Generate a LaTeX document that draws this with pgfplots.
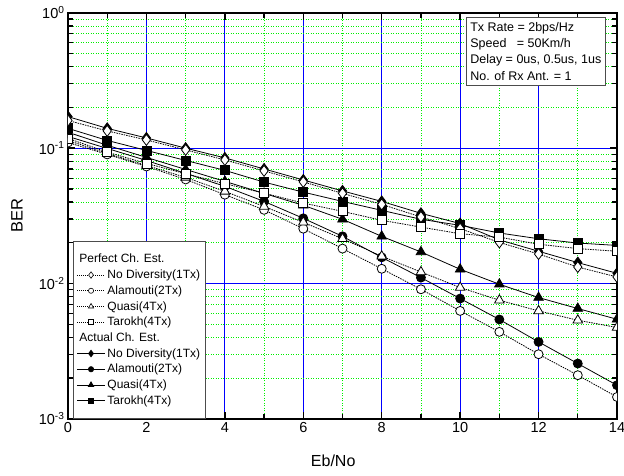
\documentclass[border=0pt]{standalone}
\usepackage{pgfplots}
\pgfplotsset{compat=1.18}
\usepackage{fontspec}
\setmainfont{Liberation Sans}
\definecolor{gridgreen}{RGB}{0,240,0}
\definecolor{gridblue}{RGB}{0,0,255}
\begin{document}
\begin{tikzpicture}
\begin{axis}[
  at={(0pt,0pt)}, anchor=south west,
  width=549pt, height=406pt, scale only axis,
  xmin=0, xmax=14, ymode=log, ymin=1e-3, ymax=1,
  xtick={0,2,4,6,8,10,12,14},
  xticklabels={0,2,4,6,8,10,12,14},
  minor xtick={1,3,5,7,9,11,13},
  ytick={1e-3,1e-2,1e-1,1},
  yticklabels={10\textsuperscript{-3},10\textsuperscript{-2},10\textsuperscript{-1},10\textsuperscript{0}},
  minor ytick={2e-3,3e-3,4e-3,5e-3,6e-3,7e-3,8e-3,9e-3,2e-2,3e-2,4e-2,5e-2,6e-2,7e-2,8e-2,9e-2,2e-1,3e-1,4e-1,5e-1,6e-1,7e-1,8e-1,9e-1},
  tick align=inside,
  major tick length=7pt, minor tick length=5pt,
  major tick style={black, line width=1.3pt},
  minor tick style={black, line width=1.3pt},
  axis line style={black, line width=1.5pt},
  grid=both,
  major grid style={draw=gridblue, line width=1.1pt, solid},
  minor grid style={draw=gridgreen, line width=0.8pt, dash pattern=on 1pt off 1.5pt},
  ticklabel style={font=\fontsize{14.5}{16}\selectfont},
  xlabel={Eb/No}, ylabel={BER},
  xlabel style={font=\fontsize{16}{18}\selectfont, at={(axis description cs:0.483,-0.104)}, anchor=center},
  ylabel style={font=\fontsize{16.5}{18}\selectfont, at={(axis description cs:-0.093,0.5)}, anchor=center},
  clip marker paths=true,
  legend image code/.code={\draw[mark repeat=2,mark phase=2,#1] plot coordinates {(0pt,0pt) (14pt,0pt) (28pt,0pt)};},
  legend cell align=left,
  legend style={at={(axis description cs:0.0097,0.438)}, anchor=north west,
    draw=black!70, fill=white, line width=0.6pt,
    font=\fontsize{12}{12}\selectfont, row sep=1.5pt,
    inner xsep=3pt, inner ysep=11pt, cells={anchor=west}},
]
% Actual (filled)
\addplot[black, line width=0.8pt, mark=diamond*, mark size=5.5pt, mark options={solid, fill=black}, forget plot] coordinates {(0,0.171)(1,0.140)(2,0.119)(3,0.100)(4,0.0847)(5,0.0702)(6,0.0582)(7,0.0483)(8,0.0404)(9,0.0330)(10,0.0277)(11,0.0210)(12,0.0173)(13,0.01426)(14,0.01189)};
\addplot[black, line width=0.8pt, mark=*, mark size=4.5pt, mark options={solid, fill=black}, forget plot] coordinates {(0,0.122)(1,0.0995)(2,0.0811)(3,0.0651)(4,0.0522)(5,0.0404)(6,0.0303)(7,0.0223)(8,0.0156)(9,0.01105)(10,0.00774)(11,0.00542)(12,0.00370)(13,0.00256)(14,0.00177)};
\addplot[black, line width=0.8pt, mark=triangle*, mark size=5.5pt, mark options={solid, fill=black}, forget plot] coordinates {(0,0.131)(1,0.105)(2,0.0854)(3,0.0696)(4,0.0568)(5,0.0463)(6,0.0378)(7,0.0298)(8,0.0223)(9,0.0171)(10,0.01273)(11,0.00987)(12,0.00787)(13,0.00653)(14,0.00544)};
\addplot[black, line width=0.8pt, mark=square*, mark size=4.5pt, mark options={solid, fill=black}, forget plot] coordinates {(0,0.140)(1,0.114)(2,0.0962)(3,0.0811)(4,0.0685)(5,0.0561)(6,0.0473)(7,0.0404)(8,0.0347)(9,0.0298)(10,0.0269)(11,0.0236)(12,0.0214)(13,0.0199)(14,0.0191)};
% Perfect (open)
\addplot[black, line width=0.8pt, dash pattern=on 1.5pt off 1pt, mark=diamond*, mark size=5.5pt, mark options={solid, fill=white}, forget plot] coordinates {(0,0.160)(1,0.134)(2,0.115)(3,0.097)(4,0.0818)(5,0.0679)(6,0.0563)(7,0.0463)(8,0.0384)(9,0.0310)(10,0.0254)(11,0.0201)(12,0.0165)(13,0.01323)(14,0.01117)};
\addplot[black, line width=0.8pt, dash pattern=on 1.5pt off 1pt, mark=*, mark size=4.5pt, mark options={solid, fill=white}, forget plot] coordinates {(0,0.110)(1,0.0899)(2,0.0732)(3,0.0587)(4,0.0453)(5,0.0350)(6,0.0254)(7,0.0181)(8,0.01284)(9,0.00906)(10,0.00627)(11,0.00439)(12,0.00300)(13,0.00210)(14,0.00145)};
\addplot[black, line width=0.8pt, dash pattern=on 1.5pt off 1pt, mark=triangle*, mark size=5.5pt, mark options={solid, fill=white}, forget plot] coordinates {(0,0.114)(1,0.0914)(2,0.0745)(3,0.0608)(4,0.0479)(5,0.0371)(6,0.0283)(7,0.0214)(8,0.0159)(9,0.01216)(10,0.00933)(11,0.00752)(12,0.00627)(13,0.00535)(14,0.00473)};
\addplot[black, line width=0.8pt, dash pattern=on 1.5pt off 1pt, mark=square*, mark size=4.5pt, mark options={solid, fill=white}, forget plot] coordinates {(0,0.118)(1,0.0934)(2,0.0771)(3,0.0647)(4,0.0546)(5,0.0465)(6,0.0393)(7,0.0341)(8,0.0293)(9,0.0261)(10,0.0233)(11,0.0220)(12,0.0195)(13,0.0181)(14,0.0173)};
% Legend
\addlegendimage{empty legend}\addlegendentry{\hspace*{-28pt}Perfect Ch. Est.}
\addlegendimage{black, line width=0.6pt, dash pattern=on 1pt off 1pt, mark=diamond*, mark size=3.2pt, mark options={solid, fill=white}}\addlegendentry{No Diversity(1Tx)}
\addlegendimage{black, line width=0.6pt, dash pattern=on 1pt off 1pt, mark=*, mark size=2.6pt, mark options={solid, fill=white}}\addlegendentry{Alamouti(2Tx)}
\addlegendimage{black, line width=0.6pt, dash pattern=on 1pt off 1pt, mark=triangle*, mark size=3pt, mark options={solid, fill=white}}\addlegendentry{Quasi(4Tx)}
\addlegendimage{black, line width=0.6pt, dash pattern=on 1pt off 1pt, mark=square*, mark size=2.6pt, mark options={solid, fill=white}}\addlegendentry{Tarokh(4Tx)}
\addlegendimage{empty legend}\addlegendentry{\hspace*{-28pt}Actual Ch. Est.}
\addlegendimage{black, line width=0.8pt, mark=diamond*, mark size=3.2pt, mark options={solid, fill=black}}\addlegendentry{No Diversity(1Tx)}
\addlegendimage{black, line width=0.8pt, mark=*, mark size=2.6pt, mark options={solid, fill=black}}\addlegendentry{Alamouti(2Tx)}
\addlegendimage{black, line width=0.8pt, mark=triangle*, mark size=3pt, mark options={solid, fill=black}}\addlegendentry{Quasi(4Tx)}
\addlegendimage{black, line width=0.8pt, mark=square*, mark size=2.6pt, mark options={solid, fill=black}}\addlegendentry{Tarokh(4Tx)}
\node[draw=black!70, line width=0.6pt, fill=white, align=left, anchor=north west,
  font=\fontsize{12.5}{16.1}\selectfont, inner xsep=4pt, inner ysep=5.5pt]
  at (axis description cs:0.725,0.990)
  {Tx Rate = 2bps/Hz\\Speed\ \ \ = 50Km/h\\Delay = 0us, 0.5us, 1us\\No. of Rx Ant. = 1};
\end{axis}
\pgfresetboundingbox
\useasboundingbox (-68pt,-57.2pt) rectangle (556pt,418.8pt);
\end{tikzpicture}
\end{document}
